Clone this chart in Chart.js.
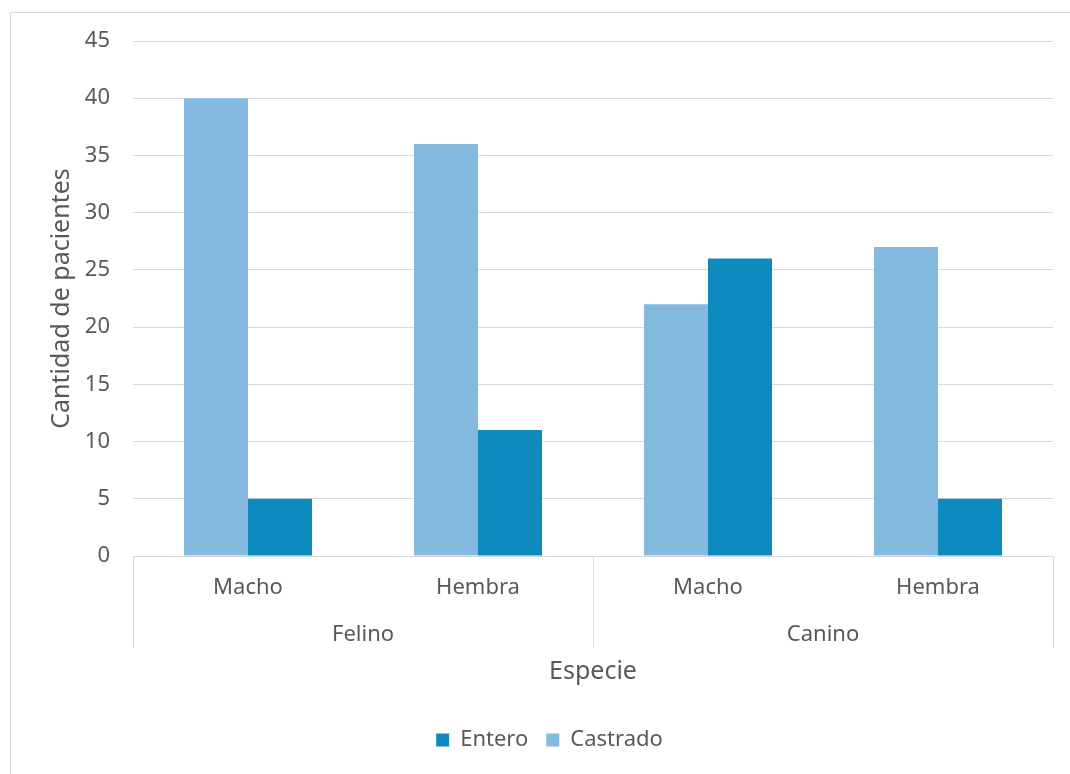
<!DOCTYPE html>
<html lang="es">
<head>
<meta charset="utf-8">
<title>Cantidad de pacientes por especie y sexo</title>
<script src="https://cdn.jsdelivr.net/npm/chart.js@4/dist/chart.umd.min.js"></script>
<style>
  html, body { margin: 0; padding: 0; background: #ffffff; overflow: hidden; }
  #wrap { position: relative; width: 1070px; height: 774px; }
  #frame {
    position: absolute; left: 10px; top: 12px; width: 1100px; height: 800px;
    border: 1px solid #d9d9d9; box-sizing: border-box; pointer-events: none;
  }
  canvas { position: absolute; left: 0; top: 0; }
</style>
</head>
<body>
<div id="wrap">
  <div id="frame"></div>
  <canvas id="chart" width="1070" height="774"></canvas>
</div>
<script>
// Categorías (sexo) agrupadas por especie
const categories = ['Macho', 'Hembra', 'Macho', 'Hembra'];
const groups = ['Felino', 'Canino'];
const groupSizes = [2, 2];

// Cantidad de pacientes por serie
const castrado = [40, 36, 22, 27];
const entero = [5, 11, 26, 5];

// Eje Y
const yMin = 0;
const yMax = 45;
const yStep = 5;

const TEXT = '#595959';
const GRID = '#d9d9d9';
const FONT = "'Noto Sans', 'Liberation Sans', sans-serif";

// Etiquetas de especie y separadores del eje de categorías
const groupAxisPlugin = {
  id: 'groupAxis',
  afterDraw(chart) {
    const x = chart.scales.x;
    const area = chart.chartArea;
    const ctx = chart.ctx;
    const band = x.getPixelForValue(1) - x.getPixelForValue(0);
    const lineBottom = area.bottom + 92;
    ctx.save();
    ctx.strokeStyle = GRID;
    ctx.lineWidth = 1;
    ctx.fillStyle = TEXT;
    ctx.font = "22px " + FONT;
    ctx.textAlign = 'center';
    ctx.textBaseline = 'middle';
    let start = 0;
    const edges = [];
    groups.forEach((g, gi) => {
      const end = start + groupSizes[gi] - 1;
      const left = x.getPixelForValue(start) - band / 2;
      const right = x.getPixelForValue(end) + band / 2;
      if (gi === 0) edges.push(left);
      edges.push(right);
      ctx.fillText(g, (left + right) / 2, area.bottom + 79);
      start = end + 1;
    });
    edges.forEach(px => {
      const xx = Math.round(px) + 0.5;
      ctx.beginPath();
      ctx.moveTo(xx, area.bottom);
      ctx.lineTo(xx, lineBottom);
      ctx.stroke();
    });
    ctx.restore();
  }
};

new Chart(document.getElementById('chart'), {
  type: 'bar',
  data: {
    labels: categories,
    datasets: [
      {
        label: 'Castrado',
        data: castrado,
        backgroundColor: '#84b9e0',
        borderWidth: 0,
        categoryPercentage: 128 / 230,
        barPercentage: 1
      },
      {
        label: 'Entero',
        data: entero,
        backgroundColor: '#0e8bbe',
        borderWidth: 0,
        categoryPercentage: 128 / 230,
        barPercentage: 1
      }
    ]
  },
  options: {
    responsive: false,
    animation: false,
    devicePixelRatio: 1,
    layout: { padding: { top: 41, right: 17, left: 46, bottom: 13 } },
    plugins: {
      tooltip: { enabled: false },
      legend: {
        position: 'bottom',
        labels: {
          boxWidth: 13,
          boxHeight: 13,
          padding: 18,
          color: TEXT,
          font: { family: FONT, size: 22 },
          sort: (a, b) => b.datasetIndex - a.datasetIndex
        }
      }
    },
    scales: {
      x: {
        grid: { display: false, drawTicks: false },
        border: { display: false },
        ticks: {
          color: TEXT,
          font: { family: FONT, size: 22 },
          padding: 19,
          maxRotation: 0
        },
        title: {
          display: true,
          text: 'Especie',
          color: TEXT,
          font: { family: FONT, size: 25 },
          padding: { top: 0, bottom: 24 }
        },
        afterFit(scale) { scale.height = 155; }
      },
      y: {
        min: yMin,
        max: yMax,
        grid: { color: GRID, lineWidth: 1, drawTicks: false },
        border: { display: false },
        ticks: {
          stepSize: yStep,
          color: TEXT,
          font: { family: FONT, size: 22 },
          padding: 23
        },
        title: {
          display: true,
          text: 'Cantidad de pacientes',
          color: TEXT,
          font: { family: FONT, size: 25 },
          padding: { top: 1, bottom: 0 }
        },
        afterFit(scale) { scale.width = 87; }
      }
    }
  },
  plugins: [groupAxisPlugin]
});
</script>
</body>
</html>
